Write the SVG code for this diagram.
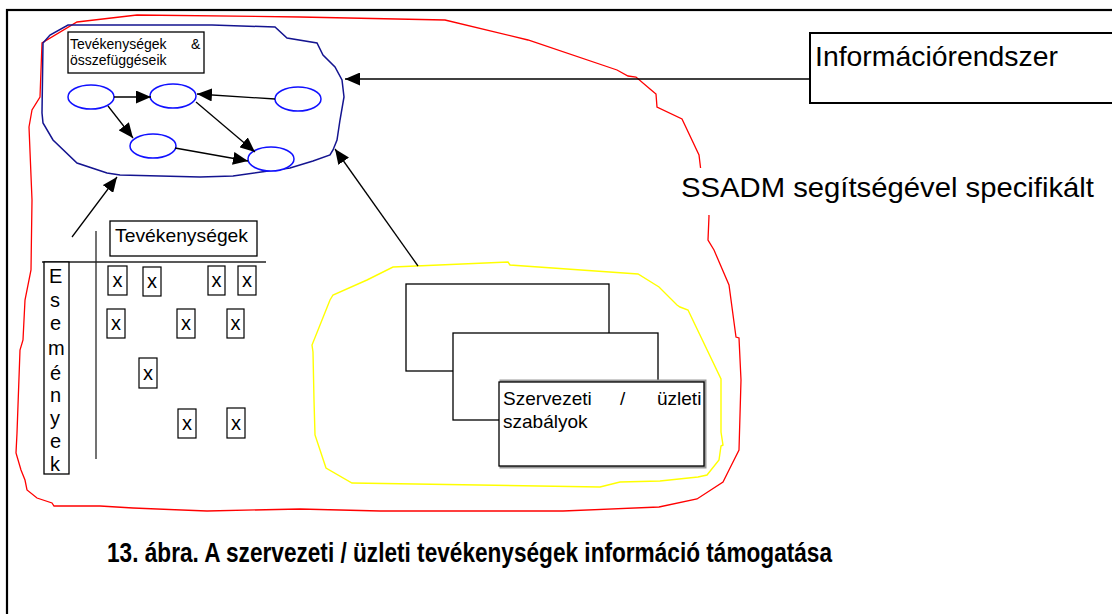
<svg xmlns="http://www.w3.org/2000/svg" width="1112" height="614" viewBox="0 0 1112 614">
<defs>
<marker id="ah" markerUnits="userSpaceOnUse" markerWidth="15" markerHeight="13" refX="15" refY="6.5" orient="auto">
<path d="M0,0 L15,6.5 L0,13 Z" fill="#000"/>
</marker>
<style>
.t{font-family:"Liberation Sans",Arial,sans-serif;fill:#000}
.ell{fill:#fff;stroke:#1010ff;stroke-width:1.5}
.bx{fill:#fff;stroke:#000;stroke-width:1.3}
.con{stroke:#000;stroke-width:1.3;fill:none;marker-end:url(#ah)}
.xb{fill:#fff;stroke:#000;stroke-width:1.2}
</style>
</defs>
<rect width="1112" height="614" fill="#fff"/>
<g id="frame"><rect x="7" y="10" width="1200" height="700" fill="none" stroke="#000" stroke-width="2.2"/></g>
<g id="red-region"><path d="M77,22 L137,15 L300,17 L445,20 L528,40 L617,70 L628,76 L636,77 L650,89 L656,94 L657,107 L682,119 L699,155 L702,180 L708,205 L709,216 L708,240 L714,250 L729,285 L736,337 L739,338 L741,380 L739,450 L729,470 L723,482 L697,499 L659,507 L563,511 L380,511 L300,509 L207,511 L133,508 L100,506 L54,506 L52,503 L37,498 L27,490 L25,480 L21,470 L16,453 L17,433 L20,350 L23,340 L25,300 L31,270 L32,200 L29,127 L32,110 L40,97 L42,43 Z" fill="none" stroke="#ff0000" stroke-width="1.3"/></g>
<g id="ssadm-label"><rect x="676" y="168" width="424" height="47" fill="#fff"/><text class="t" x="681" y="197" font-size="28" textLength="413" lengthAdjust="spacingAndGlyphs">SSADM segítségével specifikált</text></g>
<g id="blue-region"><path d="M68,25 L212,25 L275,27 L287,38 L317,43 L323,55 L335,67 L342,80 L344,97 L340,120 L337,140 L333,150 L330,155 L313,161 L290,168 L233,176 L200,177 L120,175 L107,173 L77,163 L53,140 L43,123 L42,113 L43,43 L50,35 Z" fill="none" stroke="#141490" stroke-width="1.5"/></g>
<g id="box-tevekenysegek-osszefuggeseik"><rect class="bx" x="68" y="32" width="136" height="41"/><text class="t" x="70" y="49" font-size="14">Tevékenységek</text><text class="t" x="191" y="49" font-size="14">&amp;</text><text class="t" x="70" y="65" font-size="14">összefüggéseik</text></g>
<g id="activity-nodes">
<ellipse id="e1" class="ell" cx="91" cy="97" rx="23" ry="12"/>
<ellipse id="e2" class="ell" cx="173" cy="96" rx="23" ry="12"/>
<ellipse id="e3" class="ell" cx="298" cy="99" rx="23" ry="12"/>
<ellipse id="e4" class="ell" cx="153" cy="146" rx="23" ry="12"/>
<ellipse id="e5" class="ell" cx="271" cy="159" rx="23" ry="12"/>
</g>
<g id="informaciorendszer"><rect x="810" y="33" width="320" height="70" fill="#fff" stroke="#000" stroke-width="2"/><text class="t" x="815" y="66" font-size="28" textLength="243" lengthAdjust="spacingAndGlyphs">Információrendszer</text></g>
<g id="yellow-region"><path d="M393,267 L508,262 L510,265 L638,274 L659,287 L677,305 L680,307 L688,310 L721,379 L721,432 L723,445 L721,446 L719,460 L707,475 L698,477 L660,481 L620,482 L600,487 L352,483 L326,468 L315,435 L314,400 L313,352 L312,345 L330,300 L333,295 L367,280 Z" fill="none" stroke="#ffff00" stroke-width="1.4"/></g>
<g id="rules-stack">
<rect class="bx" x="406" y="284" width="203" height="87"/>
<rect class="bx" x="453" y="333" width="205" height="87"/>
<rect x="500" y="380" width="206" height="88" fill="#999" stroke="#999" stroke-width="1"/>
<rect class="bx" x="499" y="382" width="205" height="84"/>
<text class="t" x="503" y="405" font-size="19">Szervezeti</text>
<text class="t" x="620" y="405" font-size="19">/</text>
<text class="t" x="657" y="405" font-size="19">üzleti</text>
<text class="t" x="503" y="428" font-size="19">szabályok</text>
</g>
<g id="matrix">
<line x1="96" y1="231" x2="96" y2="459" stroke="#444" stroke-width="1.5"/>
<line x1="42" y1="262" x2="266" y2="262" stroke="#222" stroke-width="1.3"/>
<rect class="bx" x="110" y="221" width="147" height="35"/>
<text class="t" x="115" y="242" font-size="19" textLength="133" lengthAdjust="spacingAndGlyphs">Tevékenységek</text>
<rect class="bx" x="44" y="262" width="25" height="212"/>
<g class="t" font-size="20">
<text x="49" y="283">E</text><text x="50" y="307">s</text><text x="50" y="330">e</text><text x="48" y="355">m</text><text x="50" y="380">é</text><text x="50" y="402">n</text><text x="50" y="425">y</text><text x="50" y="448">e</text><text x="50" y="471">k</text>
</g>
<rect class="xb" x="108" y="266" width="19" height="29"/>
<rect class="xb" x="143" y="267" width="18" height="29"/>
<rect class="xb" x="208" y="266" width="17" height="29"/>
<rect class="xb" x="238" y="266" width="18" height="29"/>
<rect class="xb" x="107" y="309" width="18" height="29"/>
<rect class="xb" x="177" y="309" width="18" height="29"/>
<rect class="xb" x="227" y="309" width="17" height="29"/>
<rect class="xb" x="139" y="358" width="18" height="30"/>
<rect class="xb" x="178" y="409" width="18" height="29"/>
<rect class="xb" x="227" y="408" width="18" height="30"/>
<g class="t" font-size="20" text-anchor="middle">
<text x="117.5" y="287">x</text><text x="152" y="288">x</text><text x="216.5" y="287">x</text><text x="247" y="287">x</text>
<text x="116" y="330">x</text><text x="186" y="330">x</text><text x="235.5" y="330">x</text>
<text x="148" y="380">x</text>
<text x="187" y="430">x</text><text x="236" y="430">x</text>
</g>
</g>
<g id="connectors">
<path class="con" d="M810,79 L345,79"/>
<path class="con" d="M72,237 L117,177"/>
<path class="con" d="M418,266 L335,149"/>
<path class="con" d="M114,97 L151,97"/>
<path class="con" d="M275,99 L197,94"/>
<path class="con" d="M108,106 L133,138"/>
<path class="con" d="M196,102 L255,152"/>
<path class="con" d="M175,148 L248,161"/>
</g>
<g id="caption"><text class="t" x="107" y="562" font-size="28" font-weight="bold" textLength="725" lengthAdjust="spacingAndGlyphs">13. ábra. A szervezeti / üzleti tevékenységek információ támogatása</text></g>
</svg>
